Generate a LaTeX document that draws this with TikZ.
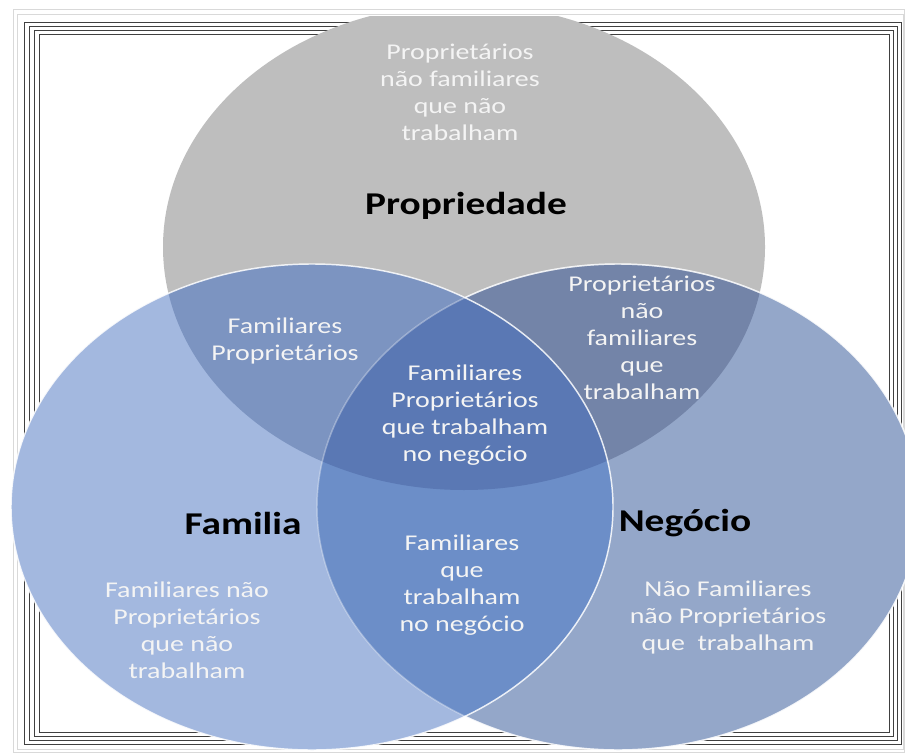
\documentclass[tikz,border=0pt]{standalone}
\usepackage{fontspec}
\newfontfamily\lab[FakeStretch=1.24]{Carlito}
\definecolor{cG}{HTML}{BEBEBE}
\definecolor{cL}{HTML}{A3B8DF}
\definecolor{cR}{HTML}{94A7C9}
\definecolor{cGL}{HTML}{7C94C1}
\definecolor{cGR}{HTML}{7384A8}
\definecolor{cLR}{HTML}{6C8EC8}
\definecolor{cGLR}{HTML}{5A78B4}
\definecolor{ctext}{HTML}{F4F4F4}
\begin{document}
\begin{tikzpicture}[x=0.75pt,y=-0.75pt,
  region/.style={font=\lab\fontsize{16.9}{20.25}\selectfont, text=ctext, align=center, inner sep=0pt},
  settitle/.style={font=\lab\bfseries\fontsize{23.8}{28}\selectfont, text=black, inner sep=0pt},
  framedark/.style={draw=black!75, line width=0.6pt},
  framelight/.style={draw=black!15, line width=0.6pt},
  outline/.style={draw=white, line width=1.1pt}]
\useasboundingbox (0,0) rectangle (905,755);
\fill[white] (0,0) rectangle (905,755);
% frame
\draw[framelight] (13,9) rectangle (904,752);
\draw[framelight] (17,14) rectangle (903,749);
\foreach \i in {0,1,2,3}{
  \draw[framedark] ({24+5*\i},{22+4*\i}) rectangle ({901-4*\i},{744-4*\i});
}
\coordinate (G) at (464,247);
\coordinate (L) at (312,507);
\coordinate (R) at (618,507);
\def\rx{225.75pt}\def\ry{182.25pt}
\begin{scope}
\clip (0,17) rectangle (905,755);
\fill[cG] (G) ellipse [x radius=\rx, y radius=\ry];
\fill[cR] (R) ellipse [x radius=\rx, y radius=\ry];
\fill[cL] (L) ellipse [x radius=\rx, y radius=\ry];
\begin{scope}
  \clip (G) ellipse [x radius=\rx, y radius=\ry];
  \fill[cGL] (L) ellipse [x radius=\rx, y radius=\ry];
  \fill[cGR] (R) ellipse [x radius=\rx, y radius=\ry];
\end{scope}
\begin{scope}
  \clip (L) ellipse [x radius=\rx, y radius=\ry];
  \fill[cLR] (R) ellipse [x radius=\rx, y radius=\ry];
\end{scope}
\begin{scope}
  \clip (G) ellipse [x radius=\rx, y radius=\ry];
  \clip (L) ellipse [x radius=\rx, y radius=\ry];
  \fill[cGLR] (R) ellipse [x radius=\rx, y radius=\ry];
\end{scope}
% outlines
\draw[outline, opacity=0.35] (R) ellipse [x radius=\rx, y radius=\ry];
\begin{scope}[even odd rule]
  \clip (-10,-10) rectangle (920,770) (L) ellipse [x radius=\rx, y radius=\ry];
  \draw[outline, opacity=0.8] (R) ellipse [x radius=\rx, y radius=\ry];
\end{scope}
\draw[outline, opacity=0.85] (L) ellipse [x radius=\rx, y radius=\ry];
\end{scope}
% texts
\node[region] (t1) at (460,92) {Proprietários\\não familiares\\que não\\trabalham};
\node[settitle] (prop) at (466,206) {Propriedade};
\node[region] (t2) at (285,341) {Familiares\\Proprietários};
\node[region] (t3) at (642,338) {Proprietários\\não\\familiares\\que\\trabalham};
\node[region] (t4) at (465,415) {Familiares\\Proprietários\\que trabalham\\no negócio};
\node[settitle] (fam) at (243,523) {Familia};
\node[settitle] (neg) at (685,523) {Negócio};
\node[region] (t5) at (462,585) {Familiares\\que\\trabalham\\no negócio};
\node[region] (t6) at (187,630) {Familiares não\\Proprietários\\que não\\trabalham};
\node[region] (t7) at (728,617) {Não Familiares\\não Proprietários\\que\ \ trabalham};
\end{tikzpicture}
\end{document}
